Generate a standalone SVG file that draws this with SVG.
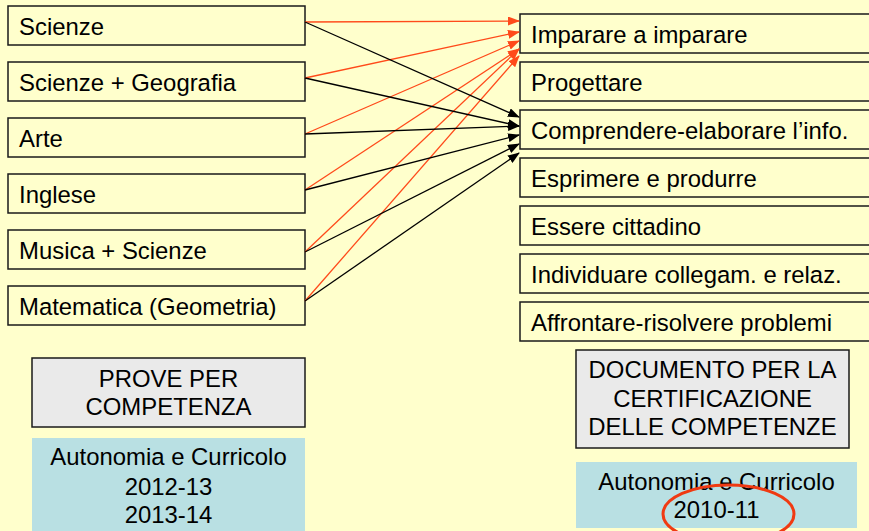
<svg xmlns="http://www.w3.org/2000/svg" width="869" height="531" viewBox="0 0 869 531">
<defs>
<marker id="ar" markerWidth="12" markerHeight="9" refX="11" refY="4.5" orient="auto" markerUnits="userSpaceOnUse"><path d="M0,0 L12,4.5 L0,9 Z" fill="#ff4a1a"/></marker>
<marker id="ab" markerWidth="12" markerHeight="9" refX="11" refY="4.5" orient="auto" markerUnits="userSpaceOnUse"><path d="M0,0 L12,4.5 L0,9 Z" fill="#000"/></marker>
</defs>
<style>
.bx{fill:#ffffcc;stroke:#1a1a1a;stroke-width:1.5}
.gr{fill:#eaeaea;stroke:#1a1a1a;stroke-width:1.5}
.bl{fill:#b9e0e3;stroke:none}
.t{font-family:"Liberation Sans",Arial,sans-serif;font-size:23.9px;fill:#000}
.c{text-anchor:middle}
.r{stroke:#ff4a1a;stroke-width:1.3;fill:none;marker-end:url(#ar)}
.k{stroke:#000;stroke-width:1.3;fill:none;marker-end:url(#ab)}
</style>
<rect width="869" height="531" fill="#ffffcc"/>
<g id="left-nodes">
<g id="n-scienze"><rect class="bx" x="8" y="6" width="297" height="39"/><text class="t" x="19" y="35">Scienze</text></g>
<g id="n-scigeo"><rect class="bx" x="8" y="62" width="297" height="39"/><text class="t" x="19" y="91">Scienze + Geografia</text></g>
<g id="n-arte"><rect class="bx" x="8" y="118" width="297" height="39"/><text class="t" x="19" y="147">Arte</text></g>
<g id="n-inglese"><rect class="bx" x="8" y="174" width="297" height="39"/><text class="t" x="19" y="203">Inglese</text></g>
<g id="n-musica"><rect class="bx" x="8" y="230" width="297" height="39"/><text class="t" x="19" y="259">Musica + Scienze</text></g>
<g id="n-matematica"><rect class="bx" x="8" y="286" width="297" height="39"/><text class="t" x="19" y="315">Matematica (Geometria)</text></g>
</g>
<g id="right-nodes">
<g id="n-imparare"><rect class="bx" x="520" y="14" width="360" height="39"/><text class="t" x="531" y="43">Imparare a imparare</text></g>
<g id="n-progettare"><rect class="bx" x="520" y="62" width="360" height="39"/><text class="t" x="531" y="91">Progettare</text></g>
<g id="n-comprendere"><rect class="bx" x="520" y="110" width="360" height="39"/><text class="t" x="531" y="139">Comprendere-elaborare l’info.</text></g>
<g id="n-esprimere"><rect class="bx" x="520" y="158" width="360" height="39"/><text class="t" x="531" y="187">Esprimere e produrre</text></g>
<g id="n-cittadino"><rect class="bx" x="520" y="206" width="360" height="39"/><text class="t" x="531" y="235">Essere cittadino</text></g>
<g id="n-individuare"><rect class="bx" x="520" y="254" width="360" height="39"/><text class="t" x="531" y="283">Individuare collegam. e relaz.</text></g>
<g id="n-affrontare"><rect class="bx" x="520" y="302" width="360" height="39"/><text class="t" x="531" y="331">Affrontare-risolvere problemi</text></g>
</g>
<g id="connectors">
<line class="r" x1="305" y1="22" x2="519" y2="21"/>
<line class="r" x1="305" y1="78" x2="519" y2="32"/>
<line class="r" x1="305" y1="134" x2="519" y2="41"/>
<line class="r" x1="305" y1="190" x2="519" y2="49"/>
<line class="r" x1="305" y1="252" x2="519" y2="49"/>
<line class="r" x1="305" y1="301" x2="519" y2="56"/>
<line class="k" x1="305" y1="22" x2="519" y2="117"/>
<line class="k" x1="305" y1="78" x2="519" y2="126"/>
<line class="k" x1="305" y1="134" x2="519" y2="126"/>
<line class="k" x1="305" y1="190" x2="519" y2="135"/>
<line class="k" x1="305" y1="252" x2="519" y2="144"/>
<line class="k" x1="305" y1="301" x2="519" y2="153"/>
</g>
<g id="prove">
<rect class="gr" x="32" y="358" width="273" height="69"/>
<text class="t c" x="168.5" y="387">PROVE PER</text>
<text class="t c" x="168.5" y="415">COMPETENZA</text>
</g>
<g id="autonomia-left">
<rect class="bl" x="32" y="438" width="273" height="93"/>
<text class="t c" x="168.5" y="465">Autonomia e Curricolo</text>
<text class="t c" x="168.5" y="495">2012-13</text>
<text class="t c" x="168.5" y="523">2013-14</text>
</g>
<g id="documento">
<rect class="gr" x="576" y="350" width="273" height="98"/>
<text class="t c" x="712.5" y="378">DOCUMENTO PER LA</text>
<text class="t c" x="712.5" y="407">CERTIFICAZIONE</text>
<text class="t c" x="712.5" y="435">DELLE COMPETENZE</text>
</g>
<g id="autonomia-right">
<rect class="bl" x="576" y="462" width="281" height="66"/>
<text class="t c" x="716.5" y="490">Autonomia e Curricolo</text>
<text class="t c" x="716.5" y="518">2010-11</text>
<ellipse cx="728.5" cy="514" rx="65.5" ry="29" fill="none" stroke="#f03a12" stroke-width="3"/>
</g>
</svg>
